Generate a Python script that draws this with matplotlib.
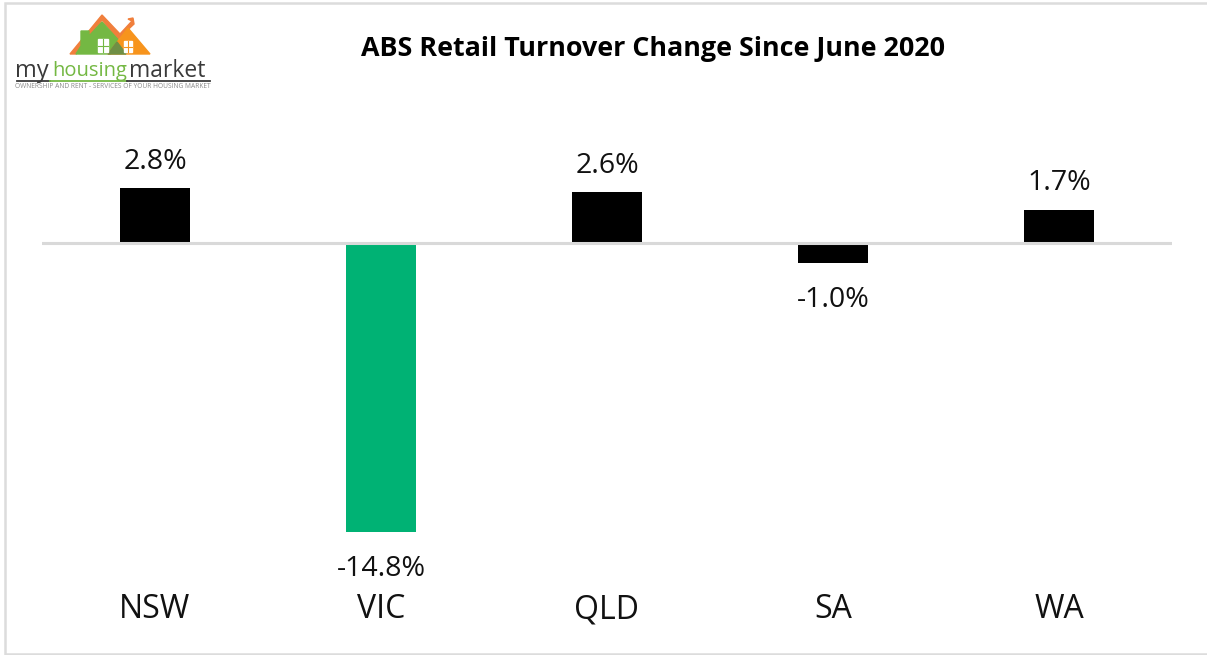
import matplotlib
matplotlib.use('Agg')
import matplotlib.pyplot as plt
from matplotlib.patches import Polygon, Rectangle

plt.rcParams['font.family'] = ['Open Sans', 'DejaVu Sans']

states = ['NSW', 'VIC', 'QLD', 'SA', 'WA']
changes = [2.8, -14.8, 2.6, -1.0, 1.7]
bar_colors = ['#000000', '#00b274', '#000000', '#000000', '#000000']

W, H = 1207, 655
fig = plt.figure(figsize=(W / 100, H / 100), dpi=100)

# page layer in pixel coords, for the frame and the logo
page = fig.add_axes([0, 0, 1, 1])
page.set_xlim(0, W)
page.set_ylim(H, 0)
page.axis('off')
# frame is open on the right side
page.plot([W, 5, 5, W], [3, 3, 654, 654], color='#dcdcdc', lw=1.8, solid_joinstyle='miter')

page.add_patch(Polygon([(70, 54), (102, 15), (120, 34), (132, 21), (128, 19), (133, 18), (134, 24),
                        (118, 39), (102, 20), (76, 54)], color='#f07f3c'))
page.add_patch(Polygon([(76, 54), (81, 46), (81, 31), (89, 31), (89, 36), (102, 22), (122, 44), (110, 54)],
                       color='#74b843'))
page.add_patch(Polygon([(108, 54), (128, 28), (150, 54)], color='#f7941d'))
page.add_patch(Polygon([(108, 54), (117, 42), (126, 54)], color='#6f8f45'))
page.add_patch(Rectangle((98, 39), 10, 13, color='white'))
page.add_patch(Rectangle((124, 41), 8, 11, color='white'))
page.plot([103, 103], [39, 52], color='#74b843', lw=0.8)
page.plot([98, 108], [45.5, 45.5], color='#74b843', lw=0.8)
page.plot([128, 128], [41, 52], color='#f7941d', lw=0.8)
page.plot([124, 132], [46.5, 46.5], color='#f7941d', lw=0.8)
page.text(15, 71, 'my', fontsize=17, color='#3a3a3a', va='center', ha='left')
page.text(52, 71, 'housing', fontsize=14.5, color='#74b843', va='center', ha='left')
page.text(129, 71, 'market', fontsize=16.5, color='#3a3a3a', va='center', ha='left')
page.plot([17, 50], [81, 81], color='#3a3a3a', lw=1.3)
page.plot([50, 127], [81, 81], color='#74b843', lw=1.3)
page.plot([127, 210], [81, 81], color='#3a3a3a', lw=1.3)
page.text(113, 87, 'OWNERSHIP AND RENT - SERVICES OF YOUR HOUSING MARKET', fontsize=4.8,
          color='#8a8a8a', va='center', ha='center')

page.text(653, 48.5, 'ABS Retail Turnover Change Since June 2020', fontsize=19.4, fontweight='bold',
          color='#000000', ha='center', va='center')

# chart: 19.5 px per percentage point, zero line at y=243
px_per_unit = 19.5
top, bottom = 100, 585
ax = fig.add_axes([42 / W, (H - bottom) / H, 1130 / W, (bottom - top) / H])
ax.patch.set_alpha(0)
ax.set_xlim(-0.5, 4.5)
ax.set_ylim(-(bottom - 243) / px_per_unit, (243 - top) / px_per_unit)

ax.bar(states, changes, width=0.31, color=bar_colors, zorder=2)
ax.axhline(0, color='#d9d9d9', lw=2.2, zorder=3)

for i, v in enumerate(changes):
    offset = 9 if v > 0 else -17
    ax.annotate(f'{v:.1f}%', (i, v), xytext=(0, offset), textcoords='offset points',
                ha='center', va='bottom' if v > 0 else 'top', fontsize=20.5, color='#111111')

for s in ax.spines.values():
    s.set_visible(False)
ax.set_yticks([])
ax.tick_params(axis='x', length=0, pad=6, labelsize=23, labelcolor='#111111')

fig.savefig('out.png', dpi=100)
